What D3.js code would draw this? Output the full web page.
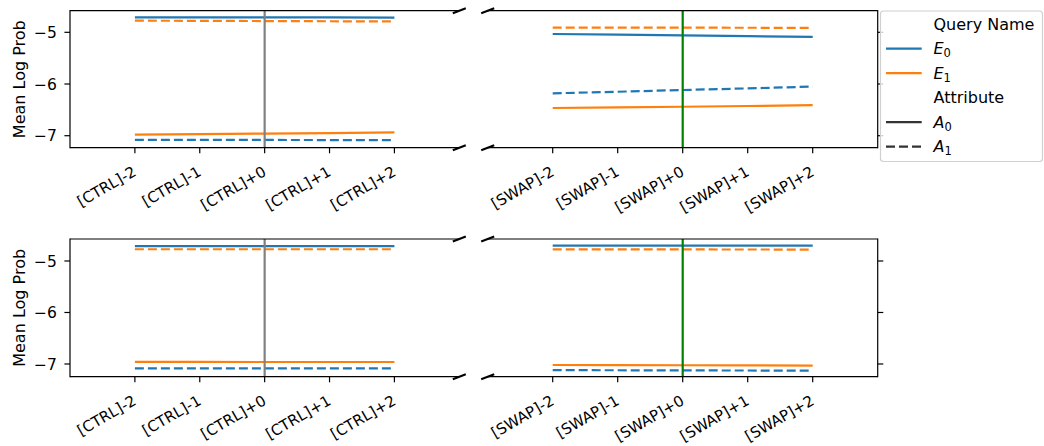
<!DOCTYPE html>
<html>
<head>
<meta charset="utf-8">
<script src="https://cdn.jsdelivr.net/npm/d3@7"></script>
<style>
  html, body { margin: 0; padding: 0; background: #fff; }
  svg text { font-family: "DejaVu Sans", sans-serif; fill: #000; }
</style>
</head>
<body>
<svg id="chart" width="1044" height="446"></svg>
<script>
// ---------------- DATA ----------------
const ctrlLabels = ["[CTRL]-2", "[CTRL]-1", "[CTRL]+0", "[CTRL]+1", "[CTRL]+2"];
const swapLabels = ["[SWAP]-2", "[SWAP]-1", "[SWAP]+0", "[SWAP]+1", "[SWAP]+2"];
const offsets = [-2, -1, 0, 1, 2];
const yTicks = [-5, -6, -7];
const queryNames = ["E0", "E1"];
const attributes = ["A0", "A1"];

// top row, CTRL panel
const topCtrlE0A0 = [-4.71, -4.71, -4.71, -4.712, -4.715];
const topCtrlE0A1 = [-7.08, -7.08, -7.082, -7.084, -7.085];
const topCtrlE1A0 = [-6.98, -6.97, -6.96, -6.95, -6.935];
const topCtrlE1A1 = [-4.775, -4.778, -4.782, -4.786, -4.79];
// top row, SWAP panel
const topSwapE0A0 = [-5.033, -5.046, -5.06, -5.075, -5.09];
const topSwapE0A1 = [-6.18, -6.15, -6.116, -6.085, -6.05];
const topSwapE1A0 = [-6.464, -6.452, -6.44, -6.425, -6.41];
const topSwapE1A1 = [-4.91, -4.91, -4.91, -4.912, -4.914];
// bottom row, CTRL panel
const botCtrlE0A0 = [-4.71, -4.71, -4.71, -4.71, -4.71];
const botCtrlE0A1 = [-7.084, -7.084, -7.084, -7.084, -7.084];
const botCtrlE1A0 = [-6.96, -6.96, -6.962, -6.962, -6.962];
const botCtrlE1A1 = [-4.772, -4.772, -4.772, -4.772, -4.772];
// bottom row, SWAP panel
const botSwapE0A0 = [-4.703, -4.703, -4.703, -4.703, -4.703];
const botSwapE0A1 = [-7.12, -7.122, -7.125, -7.127, -7.13];
const botSwapE1A0 = [-7.02, -7.022, -7.025, -7.027, -7.03];
const botSwapE1A1 = [-4.775, -4.775, -4.776, -4.777, -4.778];

const topYLim = [-7.232, -4.582];
const botYLim = [-7.247, -4.573];
const xLim = [-3, 3];

// ---------------- STYLE / LAYOUT ----------------
const colors = { E0: "#1f77b4", E1: "#ff7f0e" };
const dashes = { A0: null, A1: "9,4" };
const rows = [
  { y0: 10.7, y1: 147.7, ylim: topYLim,
    ctrl: { E0A0: topCtrlE0A0, E0A1: topCtrlE0A1, E1A0: topCtrlE1A0, E1A1: topCtrlE1A1 },
    swap: { E0A0: topSwapE0A0, E0A1: topSwapE0A1, E1A0: topSwapE1A0, E1A1: topSwapE1A1 } },
  { y0: 239, y1: 376.7, ylim: botYLim,
    ctrl: { E0A0: botCtrlE0A0, E0A1: botCtrlE0A1, E1A0: botCtrlE1A0, E1A1: botCtrlE1A1 },
    swap: { E0A0: botSwapE0A0, E0A1: botSwapE0A1, E1A0: botSwapE1A0, E1A1: botSwapE1A1 } }
];
const cols = [
  { key: "ctrl", x0: 70, x1: 459.3, labels: ctrlLabels, vcolor: "#808080", side: "left" },
  { key: "swap", x0: 487.7, x1: 877.7, labels: swapLabels, vcolor: "#008000", side: "right" }
];

const svg = d3.select("#chart");
const tickLen = 5.6;

rows.forEach(row => {
  const y = d3.scaleLinear().domain(row.ylim).range([row.y1, row.y0]);
  cols.forEach(col => {
    const x = d3.scaleLinear().domain(xLim).range([col.x0, col.x1]);
    const g = svg.append("g");
    const clipId = "clip" + col.key + Math.round(row.y0);
    svg.append("clipPath").attr("id", clipId).append("rect")
      .attr("x", col.x0).attr("y", row.y0).attr("width", col.x1 - col.x0).attr("height", row.y1 - row.y0);
    const plot = g.append("g").attr("clip-path", `url(#${clipId})`);
    const series = row[col.key];
    const line = d3.line().x((d, i) => x(offsets[i])).y(d => y(d));
    [["E0","A0"],["E0","A1"],["E1","A0"],["E1","A1"]].forEach(([q, a]) => {
      plot.append("path")
        .datum(series[q + a])
        .attr("d", line)
        .attr("fill", "none")
        .attr("stroke", colors[q])
        .attr("stroke-width", 2.2)
        .attr("stroke-dasharray", dashes[a]);
    });
    // vertical reference line at +0
    plot.append("line")
      .attr("x1", x(0)).attr("x2", x(0)).attr("y1", row.y0).attr("y2", row.y1)
      .attr("stroke", col.vcolor).attr("stroke-width", 2.2);

    const addLine = (x1, y1, x2, y2, sw) => g.append("line")
      .attr("x1", x1).attr("y1", y1).attr("x2", x2).attr("y2", y2)
      .attr("stroke", "#000").attr("stroke-width", sw || 1.2).attr("stroke-linecap", "butt");
    addLine(col.x0, row.y0, col.x1, row.y0);
    addLine(col.x0, row.y1, col.x1, row.y1);
    if (col.side === "left") addLine(col.x0, row.y0 - 0.6, col.x0, row.y1 + 0.6);
    else addLine(col.x1, row.y0 - 0.6, col.x1, row.y1 + 0.6);

    // break marks
    const bx = col.side === "left" ? col.x1 : col.x0;
    [row.y0, row.y1].forEach(by => {
      g.append("line")
        .attr("x1", bx - 6.5).attr("y1", by + 2.5).attr("x2", bx + 6.5).attr("y2", by - 2.5)
        .attr("stroke", "#000").attr("stroke-width", 2);
    });

    // x ticks + labels
    offsets.forEach((o, i) => {
      const tx = x(o);
      addLine(tx, row.y1, tx, row.y1 + tickLen, 1.2);
      g.append("text")
        .attr("transform", `translate(${tx + 2.5},${row.y1 + 27}) rotate(-30)`)
        .attr("text-anchor", "end")
        .style("font-size", "15px")
        .text(col.labels[i]);
    });

    // y ticks
    yTicks.forEach(v => {
      const ty = y(v);
      if (col.side === "left") {
        addLine(col.x0 - tickLen, ty, col.x0, ty, 1.2);
        g.append("text")
          .attr("x", col.x0 - tickLen - 7.5).attr("y", ty).attr("dy", "0.36em")
          .attr("text-anchor", "end").style("font-size", "15.5px")
          .text("\u2212" + Math.abs(v));
      } else {
        addLine(col.x1, ty, col.x1 + tickLen, ty, 1.2);
      }
    });
  });
  svg.append("text")
    .attr("transform", `translate(24.5,${(row.y0 + row.y1) / 2}) rotate(-90)`)
    .attr("text-anchor", "middle").style("font-size", "16px")
    .text("Mean Log Prob");
});

// ---------------- LEGEND ----------------
const leg = svg.append("g");
leg.append("rect")
  .attr("x", 880.5).attr("y", 11).attr("width", 162).attr("height", 150.5)
  .attr("rx", 3).attr("fill", "#fff").attr("fill-opacity", 0.8)
  .attr("stroke", "#d0d0d0").attr("stroke-width", 1.2);

const legendItems = [
  { label: "Query Name", title: true },
  { label: "E", sub: "0", color: colors.E0, dash: null },
  { label: "E", sub: "1", color: colors.E1, dash: null },
  { label: "Attribute", title: true },
  { label: "A", sub: "0", color: "#333333", dash: dashes.A0 },
  { label: "A", sub: "1", color: "#333333", dash: dashes.A1 }
];
const legendY = d3.scalePoint().domain(d3.range(legendItems.length)).range([24, 146.7]);
legendItems.forEach((it, i) => {
  const cy = legendY(i);
  if (!it.title) {
    leg.append("line")
      .attr("x1", 886).attr("x2", 921.7).attr("y1", cy).attr("y2", cy)
      .attr("stroke", it.color).attr("stroke-width", 2.2)
      .attr("stroke-dasharray", it.dash);
  }
  const t = leg.append("text")
    .attr("x", 933.5).attr("y", cy).attr("dy", "0.36em")
    .style("font-size", "16px");
  if (it.title) {
    t.text(it.label);
  } else {
    t.append("tspan").style("font-style", "italic").text(it.label);
    t.append("tspan").attr("dy", "0.25em").style("font-size", "11.5px").text(it.sub);
  }
});
</script>
</body>
</html>
